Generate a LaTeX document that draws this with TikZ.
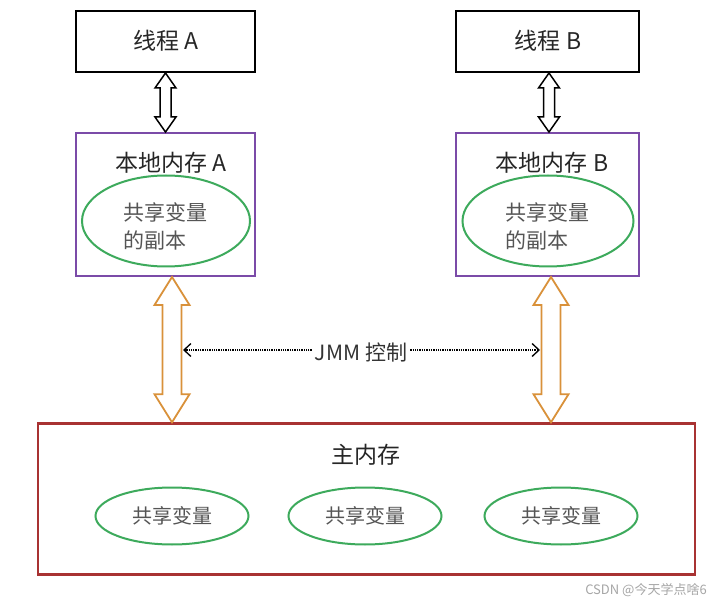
\documentclass[tikz,border=0pt]{standalone}
\usepackage{fontspec}
\setmainfont{Noto Sans CJK SC}
\usetikzlibrary{calc,arrows.meta,shapes.geometric}
\definecolor{boxpurple}{HTML}{7B4BA8}
\definecolor{memred}{HTML}{A83232}
\definecolor{ellgreen}{HTML}{3DAA5C}
\definecolor{arrorange}{HTML}{D9913A}
\definecolor{txtgray}{HTML}{555555}
% hollow double arrow: style, from, to, half shaft, half head, head length
\newcommand{\bigarrow}[6]{%
  \draw[#1] let \p1=(#2), \p2=(#3) in
    (\x1,\y1) -- (\x1+#5pt,\y1-#6pt) -- (\x1+#4pt,\y1-#6pt) -- (\x1+#4pt,\y2+#6pt)
    -- (\x1+#5pt,\y2+#6pt) -- (\x1,\y2) -- (\x1-#5pt,\y2+#6pt) -- (\x1-#4pt,\y2+#6pt)
    -- (\x1-#4pt,\y1-#6pt) -- (\x1-#5pt,\y1-#6pt) -- cycle;}
\begin{document}
\begin{tikzpicture}[x=1pt,y=-1pt,
  threadbox/.style={draw=black, line width=2pt, minimum width=179pt, minimum height=61pt, inner sep=0pt},
  localbox/.style={draw=boxpurple, line width=2pt, minimum width=181pt, minimum height=143pt, inner sep=0pt},
  mainbox/.style={draw=memred, line width=2.5pt, minimum width=657pt, minimum height=151pt, inner sep=0pt},
  varell/.style={draw=ellgreen, line width=2pt, ellipse, inner sep=0pt},
  lbl/.style={font=\fontsize{23}{28}\selectfont, text=black!85},
  vartxt/.style={font=\fontsize{21}{28}\selectfont, text=txtgray},
  whitearrow/.style={draw=black, line width=1.5pt, fill=white},
  orangearrow/.style={draw=arrorange, line width=1.8pt, fill=white},
  jmmline/.style={densely dotted, line width=1.3pt, -{Straight Barb[length=7pt,width=13pt,line width=1.3pt]}}]
\useasboundingbox[fill=white] (0,0) rectangle (718,604);
% threads
\node[threadbox] (tA) at (165.5,41.5) {};
\node[lbl] (tAl) at (166,41) {线程 A};
\node[threadbox, minimum width=183pt] (tB) at (547.5,41.5) {};
\node[lbl] (tBl) at (548,41) {线程 B};
% local memories
\node[localbox, minimum width=179pt] (lA) at (165.5,204.5) {};
\node[lbl] (lAl) at (171,163) {本地内存 A};
\node[varell, minimum width=168pt, minimum height=91pt] (eA) at (166,221) {};
\node[vartxt, align=left] (eAt) at (165,226) {共享变量\\的副本};
\node[localbox, minimum width=183pt] (lB) at (547.5,204.5) {};
\node[lbl] (lBl) at (552,163) {本地内存 B};
\node[varell, minimum width=171pt, minimum height=91pt] (eB) at (548,221) {};
\node[vartxt, align=left] (eBt) at (547,226) {共享变量\\的副本};
% main memory
\node[mainbox] (mm) at (366.5,499) {};
\node[lbl] (mml) at (366,455) {主内存};
\node[varell, minimum width=153pt, minimum height=57pt] (v1) at (172,516) {};
\node[vartxt, font=\fontsize{20}{24}\selectfont] (v1t) at (172,516) {共享变量};
\node[varell, minimum width=153pt, minimum height=57pt] (v2) at (365,516) {};
\node[vartxt, font=\fontsize{20}{24}\selectfont] (v2t) at (365,516) {共享变量};
\node[varell, minimum width=153pt, minimum height=57pt] (v3) at (561,516) {};
\node[vartxt, font=\fontsize{20}{24}\selectfont] (v3t) at (561,516) {共享变量};
% arrows
\bigarrow{whitearrow}{tA.south}{lA.north}{5.5}{10.5}{15}
\bigarrow{whitearrow}{$(tB.south)+(1.5,0)$}{$(lB.north)+(1.5,0)$}{5.5}{10.5}{15}
\bigarrow{orangearrow}{$(lA.south)+(6.5,0)$}{$(lA.south |- mm.north)+(6.5,0)$}{9.5}{17.5}{28}
\bigarrow{orangearrow}{$(lB.south)+(3.5,0)$}{$(lB.south |- mm.north)+(3.5,0)$}{9.5}{17.5}{28}
% JMM control
\coordinate (jL) at (183,350);
\coordinate (jR) at (540,350);
\node[font=\fontsize{21}{24}\selectfont, text=black!80, inner xsep=3pt] (jmm) at (361,352) {JMM 控制};
\draw[jmmline] (jmm.west |- jL) -- (jL);
\draw[jmmline] (jmm.east |- jR) -- (jR);
\node[font=\fontsize{13}{15}\selectfont, text=black!35] (wm) at (646,590) {CSDN @今天学点啥6};
\end{tikzpicture}
\end{document}
